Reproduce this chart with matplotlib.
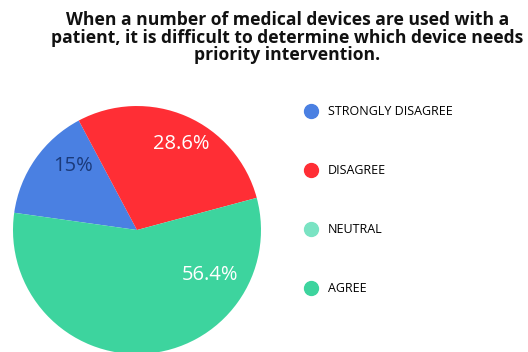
import matplotlib.pyplot as plt
from matplotlib.lines import Line2D
import numpy as np

# Survey responses (percent)
labels = ['STRONGLY DISAGREE', 'DISAGREE', 'NEUTRAL', 'AGREE']
values = [15, 28.6, 0, 56.4]
colors = ['#4A80E2', '#FF2E35', '#7AE3C3', '#3DD49E']
pct_colors = ['#1B3A7A', 'white', 'white', 'white']
title = ('When a number of medical devices are used with a\n'
         'patient, it is difficult to determine which device needs\n'
         'priority intervention.')

plt.rcParams['font.family'] = ['Open Sans', 'DejaVu Sans']

fig = plt.figure(figsize=(5.28, 3.52), dpi=100)
fig.text(0.544, 0.968, title, ha='center', va='top', fontsize=12.6,
         fontweight='bold', color='#111111', linespacing=0.95)

# pie sits low in the frame, slightly cut at the bottom
ax = fig.add_axes([0.0246, -0.0057, 0.4697, 0.7045])
wedges, _ = ax.pie(values, colors=colors, startangle=172, counterclock=False,
                   radius=1.0, wedgeprops=dict(linewidth=0))
ax.set_xlim(-1, 1)
ax.set_ylim(-1, 1)
ax.set_aspect('equal')
ax.axis('off')

# percent labels, placed by angle and distance from the centre
label_angle = [135, 63, None, -32]
label_dist = [0.73, 0.78, None, 0.69]
for v, a, d, c in zip(values, label_angle, label_dist, pct_colors):
    if v == 0:
        continue
    t = np.deg2rad(a)
    ax.text(d * np.cos(t), d * np.sin(t), f'{v:g}%', ha='center', va='center',
            fontsize=14.5, color=c)

handles = [Line2D([], [], marker='o', linestyle='none', markersize=10,
                  markerfacecolor=c, markeredgecolor=c) for c in colors]
fig.legend(handles, labels, loc='upper left', bbox_to_anchor=(0.555, 0.733),
           frameon=False, fontsize=9, labelspacing=3.68, handletextpad=0.9,
           handlelength=1.0)

fig.savefig('out.png', dpi=100)
